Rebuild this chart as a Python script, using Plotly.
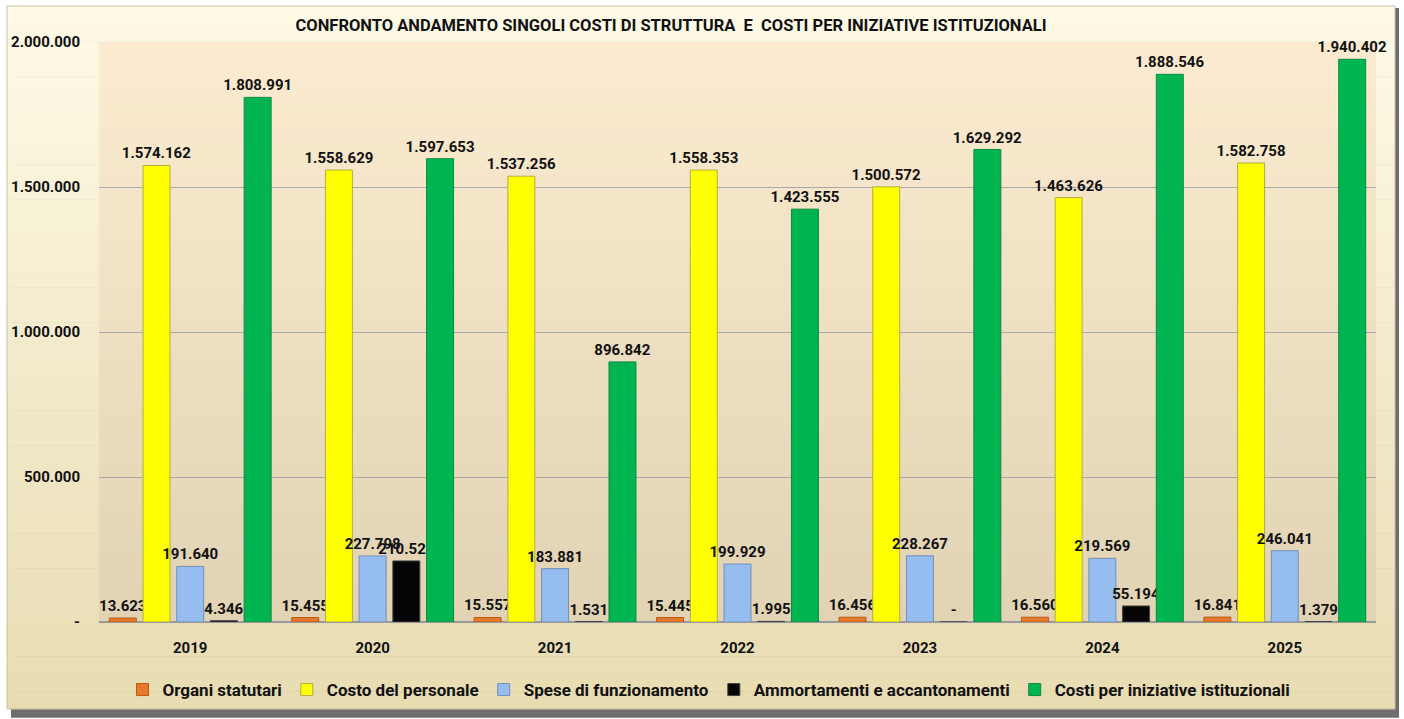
import plotly.graph_objects as go

anni = ['2019', '2020', '2021', '2022', '2023', '2024', '2025']

organi_statutari = [13623, 15455, 15557, 15445, 16456, 16560, 16841]
costo_personale = [1574162, 1558629, 1537256, 1558353, 1500572, 1463626, 1582758]
spese_funzionamento = [191640, 227798, 183881, 199929, 228267, 219569, 246041]
ammortamenti = [4346, 210528, 1531, 1995, 0, 55194, 1379]
costi_iniziative = [1808991, 1597653, 896842, 1423555, 1629292, 1888546, 1940402]

y_ticks = [0, 500000, 1000000, 1500000, 2000000]

FONT = 'Roboto, Liberation Sans, sans-serif'

# margini del grafico in pixel
L, R, T, B = 99, 28, 42, 96
W, H = 1404, 719
PW, PH = W - L - R, H - T - B


def fmt(v):
    # formato italiano, zero come trattino
    if v == 0:
        return '-'
    return f'{v:,}'.replace(',', '.')


def px_x(p):
    return (p - L) / PW


def px_y(p):
    return (H - B - p) / PH


def mix(c1, c2, t):
    return '#%02x%02x%02x' % tuple(int(round(a + (b - a) * t)) for a, b in zip(c1, c2))


def font(size):
    return dict(family=FONT, size=size, color='#111111', weight='bold')


serie = [
    ('Organi statutari', organi_statutari, '#e8782a', '#b85a18'),
    ('Costo del personale', costo_personale, '#ffff00', '#b0b040'),
    ('Spese di funzionamento', spese_funzionamento, '#95bdf0', '#7090b8'),
    ('Ammortamenti e accantonamenti', ammortamenti, '#050505', '#404040'),
    ('Costi per iniziative istituzionali', costi_iniziative, '#00b550', '#0a8a40'),
]

fig = go.Figure()

for nome, valori, colore, bordo in serie:
    fig.add_trace(go.Bar(
        x=anni,
        y=valori,
        name=nome,
        marker=dict(color=colore, line=dict(color=bordo, width=1)),
        text=[fmt(v) for v in valori],
        textposition='outside',
        constraintext='none',
        textfont=font(15),
        cliponaxis=False,
    ))

# sfondo a gradiente: cornice esterna e area del grafico
shapes = []
shapes.append(dict(type='rect', xref='paper', yref='paper', layer='below',
                   x0=px_x(11), x1=px_x(1399), y0=px_y(719), y1=px_y(8),
                   fillcolor='#6e6e6e', line=dict(width=0)))
n = 40
top_out, bot_out = (254, 250, 230), (232, 220, 178)
for i in range(n):
    y0 = 6 + (710 - 6) * i / n
    y1 = 6 + (710 - 6) * (i + 1) / n
    shapes.append(dict(type='rect', xref='paper', yref='paper', layer='below',
                       x0=px_x(7), x1=px_x(1395), y0=px_y(y1 + 0.5), y1=px_y(y0),
                       fillcolor=mix(top_out, bot_out, i / (n - 1)), line=dict(width=0)))
top_in, bot_in = (252, 235, 208), (225, 211, 180)
for i in range(n):
    shapes.append(dict(type='rect', xref='paper', yref='paper', layer='below',
                       x0=0, x1=1, y0=1 - (i + 1) / n - 0.002, y1=1 - i / n,
                       fillcolor=mix(top_in, bot_in, i / (n - 1)), line=dict(width=0)))
shapes.append(dict(type='rect', xref='paper', yref='paper', layer='below',
                   x0=px_x(7), x1=px_x(1395), y0=px_y(710), y1=px_y(6),
                   fillcolor='rgba(0,0,0,0)', line=dict(color='#c8c0a8', width=1)))

fig.update_layout(
    width=W,
    height=H,
    title=dict(
        text='CONFRONTO ANDAMENTO SINGOLI COSTI DI STRUTTURA  E  COSTI PER INIZIATIVE ISTITUZIONALI',
        x=671 / W, xanchor='center', y=1 - 25 / H, yanchor='middle',
        font=font(16.5),
    ),
    barmode='group',
    bargap=0.076,
    bargroupgap=0.2,
    margin=dict(l=L, r=R, t=T, b=B),
    paper_bgcolor='#ffffff',
    plot_bgcolor='rgba(0,0,0,0)',
    font=dict(family=FONT, color='#111111'),
    shapes=shapes,
    showlegend=True,
    legend=dict(
        orientation='h', x=px_x(709), xanchor='center', y=px_y(690), yanchor='middle',
        font=font(17),
        bgcolor='rgba(0,0,0,0)', itemwidth=30,
    ),
    xaxis=dict(
        tickfont=font(15),
        ticklabelstandoff=12,
        showline=True, linecolor='#9a9a9a', linewidth=1,
        showgrid=False,
        automargin=False,
    ),
    yaxis=dict(
        range=[0, 2000000],
        tickvals=y_ticks,
        ticktext=[fmt(v) for v in y_ticks],
        tickfont=font(15),
        ticklabelstandoff=18,
        showgrid=True, gridcolor='#a8a8a8', gridwidth=1,
        zeroline=True, zerolinecolor='#9a9a9a',
        fixedrange=True,
        automargin=False,
    ),
)

fig.write_html(
    'out.html',
    config={'displayModeBar': False},
    post_script="document.body.style.margin='0px';document.body.style.overflow='hidden';",
)
